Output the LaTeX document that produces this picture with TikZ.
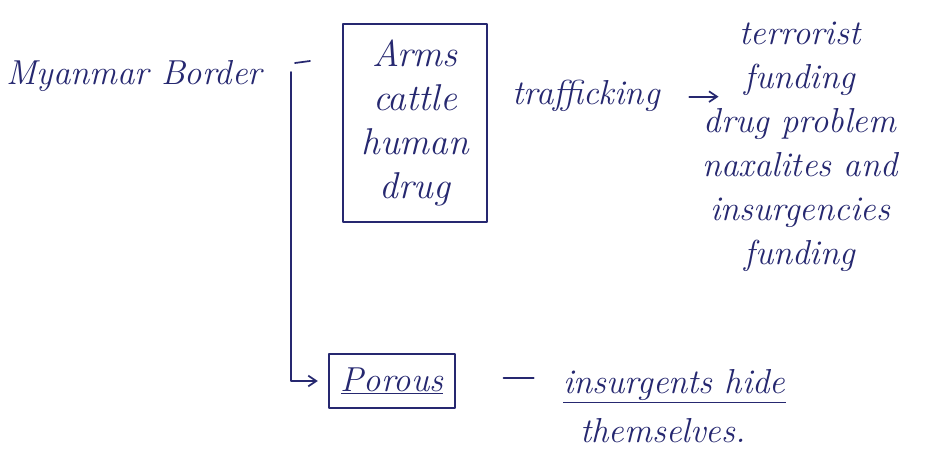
\documentclass[tikz,border=0pt]{standalone}
\usepackage{fontspec}
\usetikzlibrary{arrows.meta}
\definecolor{inkblue}{RGB}{38,40,112}
\begin{document}
\begin{tikzpicture}[x=0.75pt,y=-0.75pt,
  ink/.style={draw=inkblue, line width=1.3pt, line cap=round, line join=round},
  hand/.style={text=inkblue, inner sep=0pt, font=\fontsize{26}{32}\selectfont\itshape},
  arrowhead/.style={-{Straight Barb[length=6pt,width=8pt]}}]
\useasboundingbox (0,0) rectangle (942,468);
\fill[white] (0,0) rectangle (942,468);

% left heading
\node[hand, anchor=base west] (border) at (6,84) {Myanmar Border};
\coordinate (dashL) at (295,63);
\coordinate (dashR) at (310,61);
\draw[ink] (dashL) -- (dashR);

% goods box
\node[ink, hand, align=center, minimum width=108pt, minimum height=148pt, inner sep=0pt,
  font=\fontsize{28}{33}\selectfont\itshape]
  (goods) at (415,123) {Arms\\cattle\\human\\drug};

% trafficking and its consequences
\node[hand, anchor=base west] (traffic) at (512,104) {trafficking};
\node[hand, align=center, anchor=north, font=\fontsize{26}{33}\selectfont\itshape]
  (effects) at (800,22) {terrorist\\funding\\drug problem\\naxalites and\\insurgencies\\funding};
\coordinate (tstart) at ([xshift=22pt,yshift=-1pt]traffic.east);
\coordinate (tend) at ([xshift=22pt]tstart);
\draw[ink, arrowhead] (tstart) -- (tend);

% bracket to the porous box
\node[ink, hand, minimum width=94pt, minimum height=40pt, inner sep=0pt]
  (porous) at (392,381) {\underline{Porous}};
\coordinate (fork) at (291,72);
\draw[ink, arrowhead] (fork) -- (fork |- porous.west) -- ([xshift=-8pt]porous.west);

% consequence of porosity
\node[hand, anchor=base west] (hide) at (563,393) {\underline{insurgents hide}};
\node[hand, anchor=base west] (selves) at (580,442) {themselves.};
\coordinate (pdash) at ([xshift=36pt,yshift=2pt]porous.east);
\coordinate (hdash) at ([xshift=-22pt]pdash -| hide.west);
\draw[ink] (pdash) -- (hdash);
\end{tikzpicture}
\end{document}
